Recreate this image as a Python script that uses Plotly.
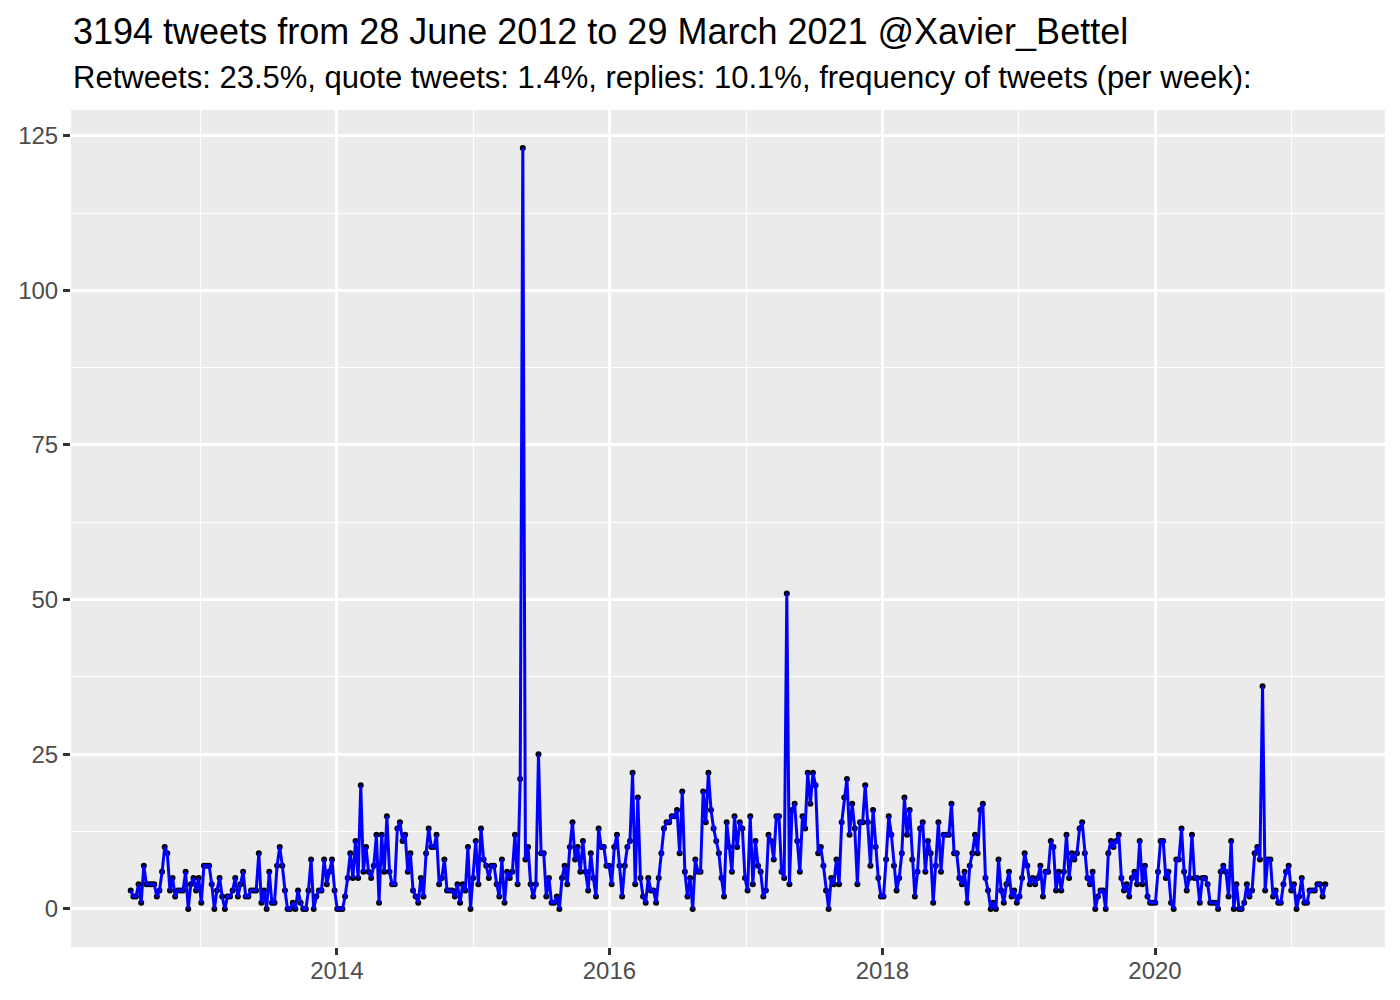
import pandas as pd
import plotly.graph_objects as go

# ---- data (weekly tweet counts) ----
start_date = "2012-06-28"
tweets_per_week = [
    3, 2, 2, 4, 1, 7, 4, 4, 4, 4, 2, 3, 6, 10, 9, 3, 5, 2, 3, 3, 3, 6, 0, 4, 5, 3, 5, 1, 7, 7, 7, 4, 0, 3, 5, 2, 0, 2,
    2, 3, 5, 2, 4, 6, 2, 2, 3, 3, 3, 9, 1, 3, 0, 6, 1, 1, 7, 10, 7, 3, 0, 0, 1, 0, 3, 1, 0, 0, 3, 8, 0, 2, 3, 3, 8, 4, 6, 8, 3, 0, 0,
    0, 2, 5, 9, 5, 11, 5, 20, 6, 10, 6, 5, 7, 12, 1, 12, 6, 15, 6, 4, 4, 13, 14, 11, 12, 6, 9, 3, 2, 1, 5, 2, 9, 13, 10, 10, 12, 4, 5, 8, 3, 3,
    3, 2, 4, 1, 4, 3, 10, 0, 5, 11, 4, 13, 8, 7, 5, 7, 7, 4, 2, 8, 1, 6, 5, 6, 12, 4, 21, 123, 8, 10, 4, 2, 4, 25, 9, 9, 2, 5, 1, 1, 2, 0,
    5, 7, 4, 10, 14, 8, 10, 6, 11, 6, 3, 9, 5, 2, 13, 10, 10, 7, 7, 4, 10, 12, 7, 2, 7, 10, 11, 22, 4, 18, 5, 2, 1, 5, 3, 3, 1, 5, 9, 13, 14, 14,
    15, 15, 16, 9, 19, 6, 2, 5, 0, 8, 6, 6, 19, 14, 22, 16, 13, 11, 9, 5, 2, 14, 10, 6, 15, 10, 14, 13, 5, 3, 15, 4, 11, 7, 6, 2, 3, 12, 11, 8, 15, 15,
    6, 5, 51, 4, 16, 17, 11, 6, 15, 13, 22, 17, 22, 20, 9, 10, 7, 3, 0, 5, 4, 8, 4, 14, 18, 21, 12, 17, 13, 4, 14, 14, 20, 14, 7, 16, 10, 5, 2, 2, 8, 15,
    12, 7, 3, 5, 9, 18, 12, 16, 8, 2, 6, 13, 14, 6, 11, 9, 1, 7, 14, 6, 12, 12, 12, 17, 9, 9, 5, 4, 6, 1, 7, 9, 12, 9, 16, 17, 5, 3, 0, 1, 0, 8,
    3, 1, 4, 6, 2, 3, 1, 2, 5, 9, 7, 4, 5, 4, 5, 7, 2, 6, 6, 11, 10, 3, 6, 3, 6, 12, 5, 9, 8, 9, 13, 14, 9, 5, 4, 6, 0, 2, 3, 3, 0, 9,
    11, 10, 11, 12, 5, 3, 4, 2, 5, 6, 4, 11, 4, 7, 2, 1, 1, 1, 6, 11, 11, 5, 6, 1, 0, 8, 8, 13, 6, 3, 5, 12, 5, 5, 1, 5, 5, 4, 1, 1, 1, 0, 6,
    7, 6, 2, 11, 0, 4, 0, 0, 1, 4, 2, 3, 9, 10, 8, 36, 3, 8, 8, 2, 3, 1, 1, 4, 6, 7, 3, 4, 0, 2, 5, 1, 1, 3, 3, 3, 4, 4, 2, 4,
]
x_tick_start = "2014-01-01"
title_text = "3194 tweets from 28 June 2012 to 29 March 2021 @Xavier_Bettel"
subtitle_text = "Retweets: 23.5%, quote tweets: 1.4%, replies: 10.1%, frequency of tweets (per week):"

dates = pd.date_range(start_date, periods=len(tweets_per_week), freq="7D")

# ggplot-like 5% expansion
span = dates[-1] - dates[0]
x_range = [dates[0] - span * 0.05, dates[-1] + span * 0.05]
ymin, ymax = min(tweets_per_week), max(tweets_per_week)
yr = ymax - ymin
y_range = [ymin - 0.05 * yr, ymax + 0.05 * yr]

FONT = "Liberation Sans, Arial, sans-serif"

fig = go.Figure()
fig.add_trace(go.Scatter(
    x=dates, y=tweets_per_week, mode="markers",
    marker=dict(color="black", size=6), hoverinfo="skip", showlegend=False,
))
fig.add_trace(go.Scatter(
    x=dates, y=tweets_per_week, mode="lines",
    line=dict(color="#0000FF", width=3), showlegend=False,
))

axis_common = dict(
    showline=False, zeroline=False, ticks="outside", ticklen=7, tickwidth=2.5,
    tickcolor="#333333", tickfont=dict(family=FONT, size=24, color="#4D4D4D"),
    showgrid=True, gridcolor="white", gridwidth=2.8, automargin=False,
)

fig.update_layout(
    width=1400, height=1000,
    margin=dict(l=71, r=15, t=110, b=53, autoexpand=False),
    plot_bgcolor="#EBEBEB", paper_bgcolor="white",
    font=dict(family=FONT, color="black"),
    xaxis=dict(
        range=x_range, type="date", tickmode="linear", tick0=x_tick_start,
        dtick="M24", tickformat="%Y", ticklabelstandoff=-5,
        minor=dict(dtick="M12", tick0=x_tick_start, showgrid=True,
                   gridcolor="white", gridwidth=1.4, ticks=""),
        **axis_common,
    ),
    yaxis=dict(
        range=y_range, tickmode="linear", tick0=0, dtick=25,
        minor=dict(dtick=12.5, tick0=0, showgrid=True,
                   gridcolor="white", gridwidth=1.4, ticks=""),
        **axis_common,
    ),
    annotations=[
        dict(text=title_text, x=0, xref="paper", xanchor="left",
             y=1.094, yref="paper", yanchor="middle", showarrow=False,
             font=dict(family=FONT, size=36, color="black")),
        dict(text=subtitle_text, x=0, xref="paper", xanchor="left",
             y=1.039, yref="paper", yanchor="middle", showarrow=False,
             font=dict(family=FONT, size=31, color="black")),
    ],
)

fig.write_html(
    "out.html",
    config={"displayModeBar": False},
    post_script="document.body.style.margin='0';document.body.style.overflow='hidden';",
)
